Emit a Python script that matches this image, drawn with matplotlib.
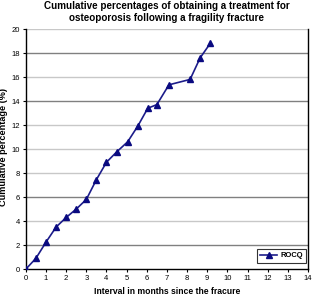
import matplotlib
matplotlib.use("Agg")
import matplotlib.pyplot as plt

# data
months = [0, 0.5, 1.0, 1.5, 2.0, 2.5, 3.0, 3.5, 4.0, 4.5, 5.05, 5.55, 6.05, 6.5, 7.1, 8.15, 8.65, 9.15]
cum_pct = [0, 0.9, 2.25, 3.5, 4.3, 5.0, 5.8, 7.45, 8.9, 9.75, 10.6, 11.9, 13.4, 13.7, 15.35, 15.8, 17.6, 18.8]
series_name = "ROCQ"
xticks = list(range(0, 15))
yticks = list(range(0, 21, 2))
dark_grid = [2, 6, 14, 18]

plt.rcParams["font.family"] = ["Liberation Sans", "DejaVu Sans"]

fig = plt.figure(figsize=(3.12, 2.96), dpi=100)
ax = fig.add_axes([0.083, 0.091, 0.904, 0.811])

for y in yticks[1:]:
    c = "#808080" if y in dark_grid else "#c8c8c8"
    ax.axhline(y, color=c, lw=1.0, zorder=1)

ax.plot(months, cum_pct, color="#1c1c8a", lw=1.2, marker="^", ms=4.5,
        mfc="#0a0a80", mec="#0a0a80", label=series_name, zorder=3)

ax.set_xlim(0, 14); ax.set_ylim(0, 20)
ax.set_xticks(xticks); ax.set_yticks(yticks)
ax.tick_params(labelsize=5.5, length=2.5, width=0.8, pad=2)
ax.spines["top"].set_visible(False)
for s in ["left", "bottom", "right"]:
    ax.spines[s].set_color("black"); ax.spines[s].set_linewidth(1.0)

ax.set_title("Cumulative percentages of obtaining a treatment for\nosteoporosis following a fragility fracture",
             fontsize=7.1, fontweight="bold", pad=6, linespacing=1.15)
ax.set_xlabel("Interval in months since the fracure", fontsize=6.2, fontweight="bold", labelpad=3.5)
ax.set_ylabel("Cumulative percentage (%)", fontsize=6.6, fontweight="bold")
ax.yaxis.set_label_coords(-0.062, 0.51)

leg = ax.legend(loc="lower right", fontsize=5.5, frameon=True, fancybox=False,
                edgecolor="black", borderpad=0.45, handlelength=2.2, handletextpad=0.4,
                borderaxespad=0.2, bbox_to_anchor=(1.0, 0.02))
leg.get_frame().set_linewidth(0.8)
for t in leg.get_texts():
    t.set_fontweight("bold")

fig.savefig("out.png", dpi=100)
